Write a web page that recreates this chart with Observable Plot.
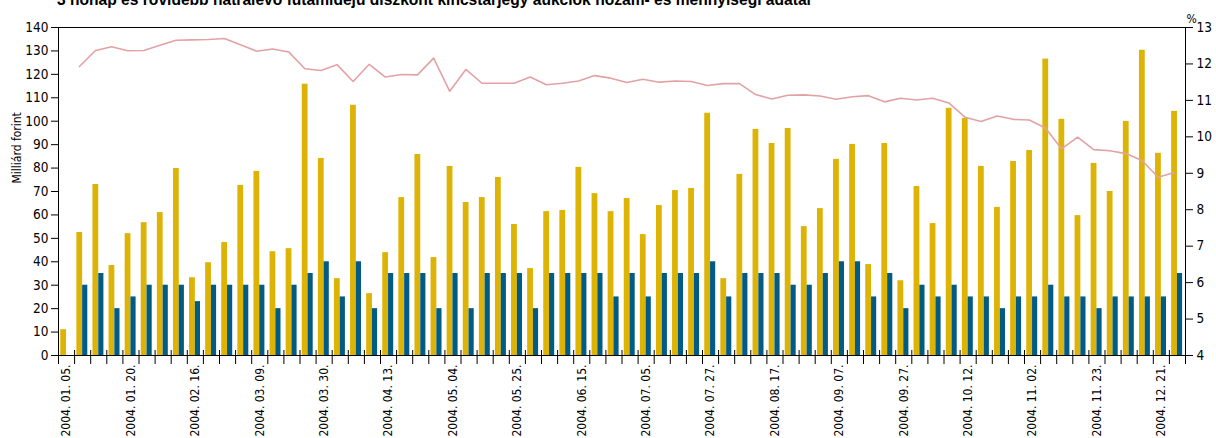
<!DOCTYPE html>
<html>
<head>
<meta charset="utf-8">
<script src="https://cdn.jsdelivr.net/npm/d3@7"></script>
<script src="https://cdn.jsdelivr.net/npm/@observablehq/plot@0.6"></script>
<style>
  html, body { margin: 0; padding: 0; background: #fff; }
  #wrap { position: relative; width: 1216px; height: 438px; overflow: hidden; }
  #title { position: absolute; left: 57px; top: -8px; font-family: "Liberation Sans Narrow", "Arial Narrow", sans-serif; font-weight: bold; font-size: 15.6px; line-height: 15px; white-space: nowrap; color: #000; }
  #chart { position: absolute; left: 0; top: 0; }
</style>
</head>
<body>
<div id="wrap">
  <div id="chart"></div>
  <div id="title">3 hónap és rövidebb hátralévő futamidejű diszkont kincstárjegy aukciók hozam- és mennyiségi adatai</div>
</div>
<script>
// Benyújtott ajánlatok (milliárd forint) – sárga
const bids = [11, 52.5, 73, 38.4, 52, 56.7, 61, 79.8, 33.2, 39.6, 48.2, 72.6, 78.6, 44.3, 45.6, 115.8,
  84.1, 32.8, 106.8, 26.4, 43.9, 67.4, 85.8, 41.8, 80.7, 65.3, 67.4, 76, 55.9, 37.1, 61.4, 61.9,
  80.3, 69.1, 61.4, 67, 51.6, 64, 70.4, 71.3, 103.4, 32.8, 77.3, 96.5, 90.5, 96.9, 55, 62.7,
  83.7, 90.1, 38.8, 90.5, 31.9, 72.1, 56.3, 105.5, 101.2, 80.7, 63.2, 82.8, 87.5, 126.5, 100.8, 59.7,
  82, 70, 99.9, 130.3, 86.3, 104.2];
// Elfogadott mennyiség (milliárd forint) – kék
const accepted = [null, 30, 35, 20, 25, 30, 30, 30, 23, 30, 30, 30, 30, 20, 30, 35,
  40, 25, 40, 20, 35, 35, 35, 20, 35, 20, 35, 35, 35, 20, 35, 35,
  35, 35, 25, 35, 25, 35, 35, 35, 40, 25, 35, 35, 35, 30, 30, 35,
  40, 40, 25, 35, 20, 30, 25, 30, 25, 25, 20, 25, 25, 30, 25, 25,
  20, 25, 25, 25, 25, 35];
// Átlaghozam (%) – jobb tengely
const rates = [null, 11.93, 12.37, 12.47, 12.36, 12.37, 12.51, 12.65, 12.66, 12.67, 12.70, 12.53, 12.35, 12.41, 12.33, 11.87,
  11.82, 11.98, 11.52, 11.99, 11.64, 11.71, 11.70, 12.16, 11.25, 11.85, 11.47, 11.47, 11.47, 11.64, 11.43, 11.47,
  11.53, 11.68, 11.61, 11.49, 11.58, 11.50, 11.53, 11.52, 11.41, 11.46, 11.46, 11.16, 11.04, 11.14, 11.15, 11.12,
  11.03, 11.10, 11.13, 10.96, 11.06, 11.01, 11.06, 10.93, 10.54, 10.42, 10.57, 10.48, 10.46, 10.24, 9.67, 9.99,
  9.65, 9.62, 9.54, 9.35, 8.89, 9.02];
// Dátumfeliratok (minden negyedik aukció)
const dateLabels = ["2004. 01. 05.", "2004. 01. 20.", "2004. 02. 16.", "2004. 03. 09.", "2004. 03. 30.", "2004. 04. 13.",
  "2004. 05. 04.", "2004. 05. 25.", "2004. 06. 15.", "2004. 07. 05.", "2004. 07. 27.", "2004. 08. 17.",
  "2004. 09. 07.", "2004. 09. 27.", "2004. 10. 12.", "2004. 11. 02.", "2004. 11. 23.", "2004. 12. 21."];
const labelStep = 4;
const leftTicks = d3.range(0, 141, 10);
const rightTicks = d3.range(4, 14, 1);

const leftMax = 140, pctMin = 4, pctMax = 13;
const toLeft = p => (p - pctMin) * leftMax / (pctMax - pctMin);
const fromLeft = v => v * (pctMax - pctMin) / leftMax + pctMin;

const n = bids.length;
const data = d3.range(n).map(i => ({i, bid: bids[i], acc: accepted[i], rate: rates[i]}));

const YELLOW = "#DDB306";
const BLUE = "#025B84";
const PINK = "#E2A2A5";
const FONT = '"Liberation Sans Narrow", "Arial Narrow", "DejaVu Sans Condensed", sans-serif';

const chart = Plot.plot({
  width: 1216,
  height: 438,
  marginTop: 27,
  marginBottom: 83,
  marginLeft: 58,
  marginRight: 31,
  style: {fontFamily: FONT, fontSize: "13px", color: "#000", background: "#fff", overflow: "visible"},
  x: {domain: [0, n], axis: null},
  y: {domain: [0, leftMax], axis: null},
  marks: [
    Plot.rect(data, {x1: d => d.i + 0.14, x2: d => d.i + 0.5, y1: 0, y2: "bid", fill: YELLOW}),
    Plot.rect(data.filter(d => d.acc != null), {x1: d => d.i + 0.5, x2: d => d.i + 0.82, y1: 0, y2: "acc", fill: BLUE}),
    Plot.line(data.filter(d => d.rate != null), {x: d => d.i + 0.3, y: d => toLeft(d.rate), stroke: PINK, strokeWidth: 1.6}),
    Plot.ruleY([0, leftMax], {stroke: "#000", strokeWidth: 1.2}),
    Plot.ruleX([0, n], {stroke: "#000", strokeWidth: 1}),
    Plot.ruleX(d3.range(0, n + 1), {x: d => d, y1: 0, y2: 0, insetTop: -5, insetBottom: -9, stroke: "#000", strokeWidth: 1}),
    Plot.axisY({anchor: "left", ticks: leftTicks, tickSize: 7, tickPadding: 3, label: null, fontSize: 13.5}),
    Plot.axisY({anchor: "right", ticks: rightTicks.map(toLeft), tickFormat: v => String(Math.round(fromLeft(v))), tickSize: 7, tickPadding: 4, label: null, fontSize: 13.5}),
    Plot.axisX({anchor: "bottom", ticks: dateLabels.map((_, k) => k * labelStep + 0.5), tickFormat: v => dateLabels[Math.round((v - 0.5) / labelStep)], tickRotate: -90, tickSize: 0, tickPadding: 9, label: null, fontSize: 12}),
    Plot.text(["Milliárd forint"], {frameAnchor: "left", rotate: -90, dx: -41, dy: -8, fontSize: 12}),
    Plot.text(["%"], {frameAnchor: "top-right", dx: 1, dy: -13, textAnchor: "start", fontSize: 12})
  ]
});
document.getElementById("chart").appendChild(chart);
</script>
</body>
</html>
